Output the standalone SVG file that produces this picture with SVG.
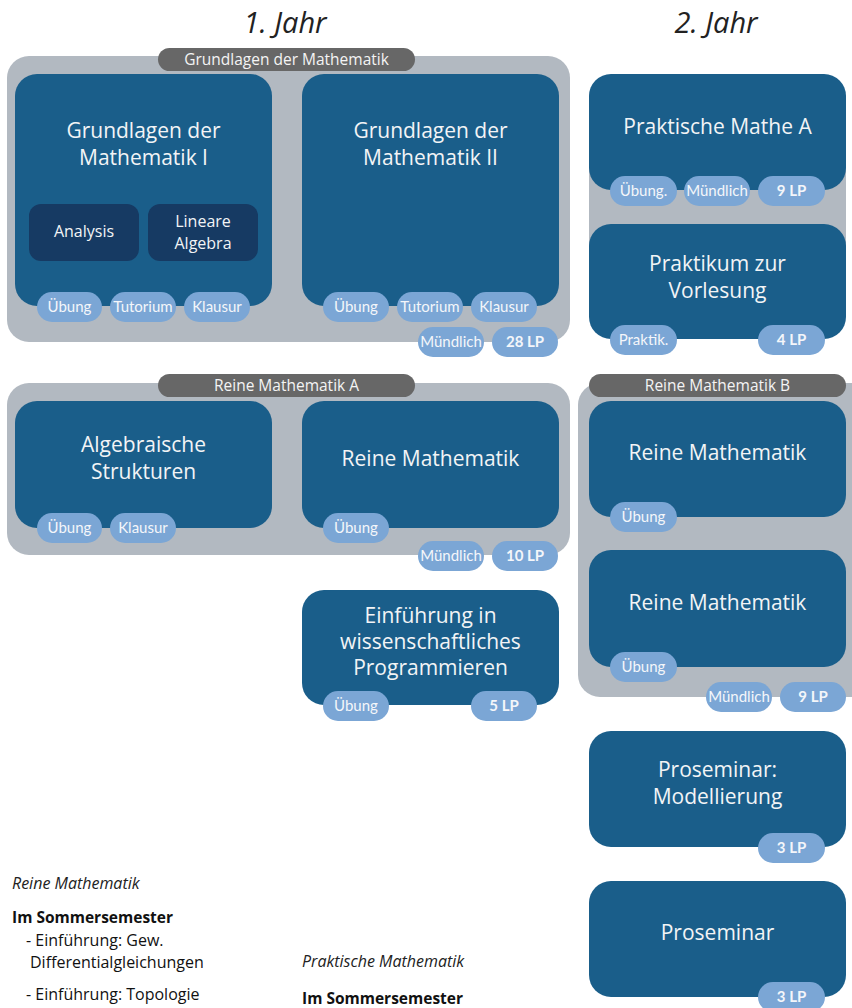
<svg xmlns="http://www.w3.org/2000/svg" width="852" height="1008" viewBox="0 0 852 1008">
<style>
.bg{fill:#b2b9c1}
.pill{fill:#676767}
.pillt{font-family:"Open Sans",sans-serif;font-size:15.5px;fill:#f4f4f4;text-anchor:middle}
.node{fill:#1a5e8a}
.inner{fill:#163a63}
.t{font-family:"Open Sans",sans-serif;font-size:21px;fill:#f2f4f6;text-anchor:middle}
.ti{font-family:"Open Sans",sans-serif;font-size:16px;fill:#f2f4f6;text-anchor:middle}
.b{fill:#7ba6d5}
.bt{font-family:Lato,sans-serif;font-size:15px;fill:#f4f6fa;text-anchor:middle}
.bb{font-family:Lato,sans-serif;font-size:15px;font-weight:bold;fill:#f4f6fa;text-anchor:middle}
.year{font-family:"Open Sans",sans-serif;font-style:italic;font-size:29px;fill:#222;text-anchor:middle}
.note{font-family:"Open Sans",sans-serif;font-size:16px;fill:#111}
.ni{font-style:italic;fill:#222;font-size:16px}
.nb{font-weight:bold;font-size:15.5px}
</style>
<g id="titles">
<text class="year" x="285" y="33">1. Jahr</text>
<text class="year" x="716" y="33">2. Jahr</text>
</g>
<g id="group-grundlagen">
<rect class="bg" x="7" y="56" width="563" height="286" rx="22"/>
<rect class="pill" x="158" y="48" width="257" height="23" rx="11.5"/>
<text class="pillt" x="286.5" y="65">Grundlagen der Mathematik</text>
</g>
<g id="group-reine-a">
<rect class="bg" x="7" y="383" width="563" height="172" rx="22"/>
<rect class="pill" x="158" y="374" width="257" height="23" rx="11.5"/>
<text class="pillt" x="286.5" y="391">Reine Mathematik A</text>
</g>
<g id="group-praktisch">
<rect class="bg" x="589" y="140" width="257" height="140"/>
</g>
<g id="group-reine-b">
<rect class="bg" x="578" y="383" width="300" height="314" rx="22"/>
<rect class="pill" x="589" y="374" width="257" height="23" rx="11.5"/>
<text class="pillt" x="717.5" y="391">Reine Mathematik B</text>
</g>
<g id="connectors"></g>
<g id="n-gdm1">
<rect class="node" x="15" y="74" width="257" height="232" rx="22"/>
<text class="t" x="143.5" y="138">Grundlagen der</text>
<text class="t" x="143.5" y="165">Mathematik I</text>
<rect class="inner" x="29" y="204" width="110" height="57" rx="12"/>
<text class="ti" x="84" y="237">Analysis</text>
<rect class="inner" x="148" y="204" width="110" height="57" rx="12"/>
<text class="ti" x="203" y="227">Lineare</text>
<text class="ti" x="203" y="249">Algebra</text>
<rect class="b" x="37" y="292" width="65" height="30" rx="15"/><text class="bt" x="69.5" y="312">Übung</text>
<rect class="b" x="110" y="292" width="66" height="30" rx="15"/><text class="bt" x="143" y="312">Tutorium</text>
<rect class="b" x="184" y="292" width="66" height="30" rx="15"/><text class="bt" x="217" y="312">Klausur</text>
</g>
<g id="n-gdm2">
<rect class="node" x="302" y="74" width="257" height="232" rx="22"/>
<text class="t" x="430.5" y="138">Grundlagen der</text>
<text class="t" x="430.5" y="165">Mathematik II</text>
<rect class="b" x="323" y="292" width="66" height="30" rx="15"/><text class="bt" x="356" y="312">Übung</text>
<rect class="b" x="397" y="292" width="66" height="30" rx="15"/><text class="bt" x="430" y="312">Tutorium</text>
<rect class="b" x="471" y="292" width="66" height="30" rx="15"/><text class="bt" x="504" y="312">Klausur</text>
</g>
<g id="b-gdm">
<rect class="b" x="418" y="327" width="66" height="30" rx="15"/><text class="bt" x="451" y="347">Mündlich</text>
<rect class="b" x="492" y="327" width="66" height="30" rx="15"/><text class="bb" x="525" y="347">28 LP</text>
</g>
<g id="n-pma">
<rect class="node" x="589" y="74" width="257" height="116" rx="22"/>
<text class="t" x="717.5" y="134">Praktische Mathe A</text>
<rect class="b" x="610" y="176" width="67" height="30" rx="15"/><text class="bt" x="643.5" y="196">Übung.</text>
<rect class="b" x="684" y="176" width="66" height="30" rx="15"/><text class="bt" x="717" y="196">Mündlich</text>
<rect class="b" x="758" y="176" width="67" height="30" rx="15"/><text class="bb" x="791.5" y="196">9 LP</text>
</g>
<g id="n-praktikum">
<rect class="node" x="589" y="224" width="257" height="115" rx="22"/>
<text class="t" x="717.5" y="271">Praktikum zur</text>
<text class="t" x="717.5" y="298">Vorlesung</text>
<rect class="b" x="610" y="325" width="67" height="30" rx="15"/><text class="bt" x="643.5" y="345">Praktik.</text>
<rect class="b" x="758" y="325" width="67" height="30" rx="15"/><text class="bb" x="791.5" y="345">4 LP</text>
</g>
<g id="n-algebra">
<rect class="node" x="15" y="401" width="257" height="127" rx="22"/>
<text class="t" x="143.5" y="452">Algebraische</text>
<text class="t" x="143.5" y="479">Strukturen</text>
<rect class="b" x="37" y="513" width="65" height="30" rx="15"/><text class="bt" x="69.5" y="533">Übung</text>
<rect class="b" x="110" y="513" width="66" height="30" rx="15"/><text class="bt" x="143" y="533">Klausur</text>
</g>
<g id="n-reine-a">
<rect class="node" x="302" y="401" width="257" height="127" rx="22"/>
<text class="t" x="430.5" y="466">Reine Mathematik</text>
<rect class="b" x="323" y="513" width="66" height="30" rx="15"/><text class="bt" x="356" y="533">Übung</text>
</g>
<g id="b-reine-a">
<rect class="b" x="418" y="541" width="66" height="30" rx="15"/><text class="bt" x="451" y="561">Mündlich</text>
<rect class="b" x="492" y="541" width="66" height="30" rx="15"/><text class="bb" x="525" y="561">10 LP</text>
</g>
<g id="n-programmieren">
<rect class="node" x="302" y="590" width="257" height="115" rx="22"/>
<text class="t" x="430.5" y="623">Einführung in</text>
<text class="t" x="430.5" y="649">wissenschaftliches</text>
<text class="t" x="430.5" y="675">Programmieren</text>
<rect class="b" x="323" y="691" width="66" height="30" rx="15"/><text class="bt" x="356" y="711">Übung</text>
<rect class="b" x="471" y="691" width="66" height="30" rx="15"/><text class="bb" x="504" y="711">5 LP</text>
</g>
<g id="n-reine-b1">
<rect class="node" x="589" y="401" width="257" height="116" rx="22"/>
<text class="t" x="717.5" y="460">Reine Mathematik</text>
<rect class="b" x="610" y="502" width="67" height="30" rx="15"/><text class="bt" x="643.5" y="522">Übung</text>
</g>
<g id="n-reine-b2">
<rect class="node" x="589" y="550" width="257" height="117" rx="22"/>
<text class="t" x="717.5" y="610">Reine Mathematik</text>
<rect class="b" x="610" y="652" width="67" height="30" rx="15"/><text class="bt" x="643.5" y="672">Übung</text>
</g>
<g id="b-reine-b">
<rect class="b" x="706" y="682" width="66" height="30" rx="15"/><text class="bt" x="739" y="702">Mündlich</text>
<rect class="b" x="780" y="682" width="66" height="30" rx="15"/><text class="bb" x="813" y="702">9 LP</text>
</g>
<g id="n-prosem-mod">
<rect class="node" x="589" y="731" width="257" height="116" rx="22"/>
<text class="t" x="717.5" y="777">Proseminar:</text>
<text class="t" x="717.5" y="804">Modellierung</text>
<rect class="b" x="758" y="833" width="67" height="30" rx="15"/><text class="bb" x="791.5" y="853">3 LP</text>
</g>
<g id="n-prosem">
<rect class="node" x="589" y="881" width="257" height="116" rx="22"/>
<text class="t" x="717.5" y="940">Proseminar</text>
<rect class="b" x="758" y="982" width="67" height="30" rx="15"/><text class="bb" x="791.5" y="1002">3 LP</text>
</g>
<g id="notes">
<text class="note ni" x="12" y="889">Reine Mathematik</text>
<text class="note nb" x="12" y="923">Im Sommersemester</text>
<text class="note" x="26" y="946">- Einführung: Gew.</text>
<text class="note" x="30" y="968">Differentialgleichungen</text>
<text class="note" x="26" y="1000">- Einführung: Topologie</text>
<text class="note ni" x="302" y="967">Praktische Mathematik</text>
<text class="note nb" x="302" y="1004">Im Sommersemester</text>
</g>
</svg>
